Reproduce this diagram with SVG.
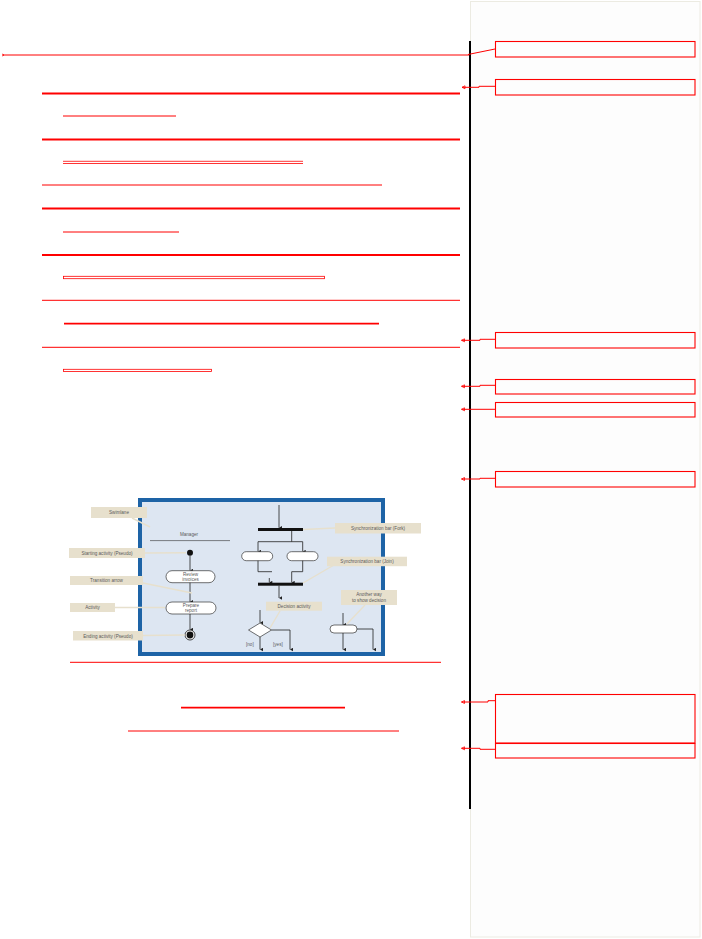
<svg xmlns="http://www.w3.org/2000/svg" width="702" height="939" viewBox="0 0 702 939">
<style>
.mk{stroke:#ff0000;fill:none}
.thk{stroke-width:1.8}
.thn{stroke-width:1}
.hair{stroke-width:0.8}
.cbox{fill:none;stroke:#ff0000;stroke-width:1.1}
.con{fill:none;stroke:#ff0000;stroke-width:1}
.lbl{fill:#e7e0cd}
.lead{stroke:#e7e0cd;stroke-width:1.4;fill:none}
.ft{font-family:"Liberation Sans",Arial,sans-serif;font-size:4.6px;fill:#5a5a5a}
.fl{stroke:#222;stroke-width:0.8;fill:none}
.cap{fill:#fff;stroke:#333;stroke-width:0.7}
</style>
<defs>
<marker id="tip" markerWidth="6" markerHeight="6" refX="1" refY="3" orient="auto" markerUnits="userSpaceOnUse">
<path d="M1,3 L4,1.5 L4,4.5 Z" fill="none" stroke="#ff0000" stroke-width="0.8"/>
</marker>
<marker id="ar" markerWidth="4" markerHeight="4" refX="2" refY="3.5" orient="auto" markerUnits="userSpaceOnUse">
<path d="M0.3,0.5 L2,3.5 L3.7,0.5" fill="#222" stroke="none"/>
</marker>
<marker id="arr" markerWidth="4" markerHeight="4" refX="3.5" refY="2" orient="auto" markerUnits="userSpaceOnUse">
<path d="M0,0.3 L3.5,2 L0,3.7 Z" fill="#222"/>
</marker>
</defs>
<rect width="702" height="939" fill="#ffffff"/>
<rect id="margin-panel" x="470.5" y="1.5" width="229.5" height="935.5" fill="#fdfdfd" stroke="#ecebe2" stroke-width="1"/>
<line id="margin-rule" x1="470" y1="41" x2="470" y2="809" stroke="#000" stroke-width="2"/>

<g id="markup-lines">
<line class="mk thn" x1="3" y1="55" x2="469" y2="55"/>
<path d="M2,54 l2,1 l-2,1" class="mk" stroke-width="0.8"/>
<line class="mk thk" x1="42" y1="93.5" x2="460" y2="93.5"/>
<line class="mk thn" x1="63" y1="116" x2="176" y2="116"/>
<line class="mk thk" x1="42" y1="139.5" x2="460" y2="139.5"/>
<line class="mk hair" x1="63" y1="161.3" x2="303" y2="161.3"/>
<line class="mk hair" x1="63" y1="163.5" x2="303" y2="163.5"/>
<line class="mk thn" x1="42" y1="185" x2="382" y2="185"/>
<line class="mk thk" x1="42" y1="208.5" x2="460" y2="208.5"/>
<line class="mk thn" x1="63" y1="232" x2="179" y2="232"/>
<line class="mk thk" x1="42" y1="255" x2="460" y2="255"/>
<rect class="mk hair" x="63.5" y="276.3" width="261" height="2.4"/>
<line class="mk thn" x1="42" y1="300.3" x2="460" y2="300.3"/>
<line class="mk thk" x1="64" y1="323.7" x2="379" y2="323.7"/>
<line class="mk thn" x1="42" y1="347.3" x2="460" y2="347.3"/>
<rect class="mk hair" x="63.5" y="369.3" width="148" height="2.3"/>
<line class="mk thn" x1="70" y1="662.3" x2="441" y2="662.3"/>
<line class="mk thk" x1="181" y1="707.7" x2="345" y2="707.7"/>
<line class="mk thn" x1="128" y1="731" x2="399" y2="731"/>
</g>

<g id="figure">
<rect x="140" y="500" width="243" height="154" fill="#dde6f2" stroke="#1d63a6" stroke-width="4"/>
<!-- left swimlane -->
<text class="ft" x="189" y="536" text-anchor="middle">Manager</text>
<line x1="150" y1="540.6" x2="230" y2="540.6" stroke="#333" stroke-width="0.6"/>
<circle cx="190" cy="552.7" r="3" fill="#111"/>
<line class="fl" x1="190" y1="555.7" x2="190" y2="570.5" marker-end="url(#ar)"/>
<rect class="cap" x="166" y="570.7" width="49" height="12" rx="6"/>
<text class="ft" x="190.5" y="576" text-anchor="middle">Review</text>
<text class="ft" x="190.5" y="581" text-anchor="middle">invoices</text>
<line class="fl" x1="190" y1="582.7" x2="190" y2="601.8" marker-end="url(#ar)"/>
<rect class="cap" x="166" y="602" width="50" height="12" rx="6"/>
<text class="ft" x="191" y="607.3" text-anchor="middle">Prepare</text>
<text class="ft" x="191" y="612.3" text-anchor="middle">report</text>
<line class="fl" x1="190" y1="614" x2="190" y2="629.5" marker-end="url(#ar)"/>
<circle cx="190" cy="635" r="5" fill="#fff" stroke="#111" stroke-width="0.8"/>
<circle cx="190" cy="635" r="3.4" fill="#111"/>
<!-- fork / join -->
<line class="fl" x1="279" y1="505" x2="279" y2="527.8" marker-end="url(#ar)"/>
<rect x="258" y="528" width="45" height="3" fill="#111"/>
<path class="fl" d="M291.7,531 V541.7 M258,541.7 H302.7"/>
<line class="fl" x1="258" y1="541.7" x2="258" y2="551.5" marker-end="url(#ar)"/>
<line class="fl" x1="302.7" y1="541.7" x2="302.7" y2="551.5" marker-end="url(#ar)"/>
<rect class="cap" x="241.7" y="551.7" width="31" height="9" rx="4.5"/>
<rect class="cap" x="287" y="551.7" width="31" height="9" rx="4.5"/>
<path class="fl" d="M258,560.7 V571.7 H272 M302.7,560.7 V571.7 H291.7"/>
<line class="fl" x1="269.3" y1="578" x2="269.3" y2="582.5" marker-end="url(#ar)"/>
<line class="fl" x1="291.7" y1="571.7" x2="291.7" y2="582.5" marker-end="url(#ar)"/>
<rect x="258" y="582.7" width="45" height="3" fill="#111"/>
<line class="fl" x1="279" y1="585.7" x2="279" y2="598" marker-end="url(#ar)"/>
<!-- decision -->
<line class="fl" x1="260" y1="610" x2="260" y2="622.7" marker-end="url(#ar)"/>
<path d="M260,623 L271.5,630 L260,637 L248.5,630 Z" fill="#fff" stroke="#333" stroke-width="0.7"/>
<line class="fl" x1="260" y1="637" x2="260" y2="649.5" marker-end="url(#ar)"/>
<path class="fl" d="M271.5,630 H290 V649.5" marker-end="url(#ar)"/>
<text class="ft" x="246" y="646">[no]</text>
<text class="ft" x="273" y="646">[yes]</text>
<line class="fl" x1="343" y1="613" x2="343" y2="624.8" marker-end="url(#ar)"/>
<rect class="cap" x="330" y="625" width="27" height="8" rx="4"/>
<line class="fl" x1="343" y1="633" x2="343" y2="649.5" marker-end="url(#ar)"/>
<path class="fl" d="M357,629 H373 V649.5" marker-end="url(#ar)"/>
<!-- callouts -->
<path class="lead" d="M132,518 L150,527"/>
<rect class="lbl" x="91" y="507" width="56" height="11"/>
<text class="ft" x="119" y="514" text-anchor="middle">Swimlane</text>
<path class="lead" d="M145,553 L186,552.7"/>
<rect class="lbl" x="69" y="548" width="76" height="10"/>
<text class="ft" x="107" y="554.8" text-anchor="middle">Starting activity (Pseudo)</text>
<path class="lead" d="M143,583 L192,593"/>
<rect class="lbl" x="70" y="576" width="73" height="9"/>
<text class="ft" x="106.5" y="582.2" text-anchor="middle">Transition arrow</text>
<path class="lead" d="M115,607.5 L165,607.5"/>
<rect class="lbl" x="70" y="603" width="45" height="9"/>
<text class="ft" x="92.5" y="609.3" text-anchor="middle">Activity</text>
<path class="lead" d="M143,635.5 L185,635"/>
<rect class="lbl" x="73" y="631" width="70" height="9.5"/>
<text class="ft" x="108" y="637.5" text-anchor="middle">Ending activity (Pseudo)</text>
<path class="lead" d="M303,529.5 L335,528"/>
<rect class="lbl" x="335" y="523" width="86" height="10.5"/>
<text class="ft" x="378" y="529.8" text-anchor="middle">Synchronization bar (Fork)</text>
<path class="lead" d="M334,565 L303,583"/>
<rect class="lbl" x="327" y="556.7" width="80" height="9.5"/>
<text class="ft" x="367" y="563" text-anchor="middle">Synchronization bar (Join)</text>
<path class="lead" d="M280,611 L270,628"/>
<rect class="lbl" x="266" y="601.7" width="56" height="9"/>
<text class="ft" x="294" y="608" text-anchor="middle">Decision activity</text>
<path class="lead" d="M365,605 L347,624"/>
<rect class="lbl" x="341" y="590" width="56" height="15"/>
<text class="ft" x="369" y="596.3" text-anchor="middle">Another way</text>
<text class="ft" x="369" y="602" text-anchor="middle">to show decision</text>
</g>

<g id="connectors">
<path class="con" d="M468,54.5 L495,49"/>
<path class="con" d="M462,87.3 H479 V86.3 H495" marker-start="url(#tip)"/>
<path class="con" d="M461.5,340.3 H480 V339.3 H495" marker-start="url(#tip)"/>
<path class="con" d="M461.5,386.3 H480 V385.3 H495" marker-start="url(#tip)"/>
<path class="con" d="M461.5,409.3 H495" marker-start="url(#tip)"/>
<path class="con" d="M461.5,479 H480 V478.3 H495" marker-start="url(#tip)"/>
<path class="con" d="M461.5,702 H488 V700.7 H495" marker-start="url(#tip)"/>
<path class="con" d="M461.5,748.3 H480 V749.3 H495" marker-start="url(#tip)"/>
</g>

<g id="comment-1"><rect class="cbox" x="495.5" y="41.5" width="199.5" height="15.5"/></g>
<g id="comment-2"><rect class="cbox" x="495.5" y="79.5" width="199.5" height="15.5"/></g>
<g id="comment-3"><rect class="cbox" x="495.5" y="332.5" width="199.5" height="15.5"/></g>
<g id="comment-4"><rect class="cbox" x="495.5" y="379.5" width="199.5" height="14.5"/></g>
<g id="comment-5"><rect class="cbox" x="495.5" y="402.5" width="199.5" height="14.5"/></g>
<g id="comment-6"><rect class="cbox" x="495.5" y="471.5" width="199.5" height="15.5"/></g>
<g id="comment-7"><rect class="cbox" x="495.5" y="694.5" width="199.5" height="48.5"/></g>
<g id="comment-8"><rect class="cbox" x="495.5" y="743.5" width="199.5" height="14.5"/></g>
</svg>
